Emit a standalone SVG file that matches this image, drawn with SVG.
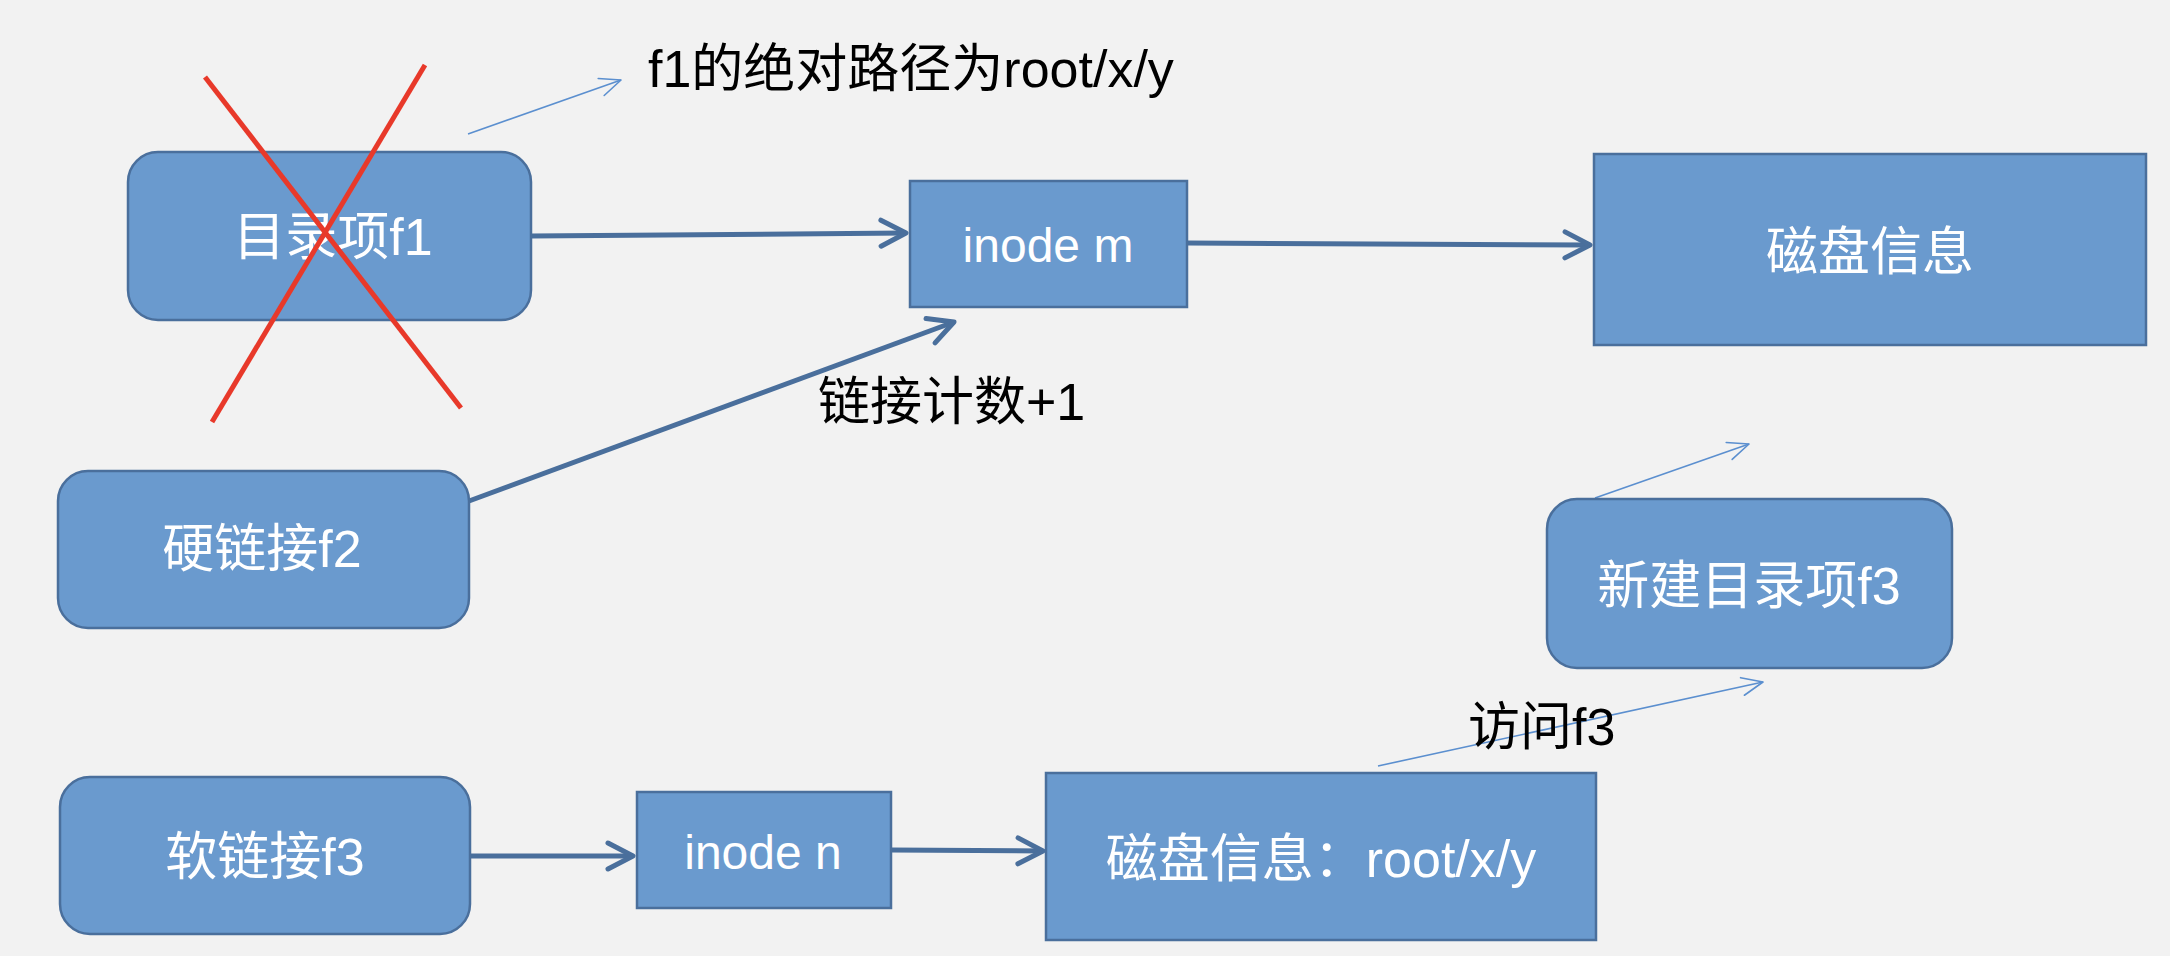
<svg xmlns="http://www.w3.org/2000/svg" width="2170" height="956" viewBox="0 0 2170 956">
<defs>
<style>
.box{fill:#6A9ACE;stroke:#4A6F9C;stroke-width:2.5}
.nt{font-family:"Liberation Sans","Noto Sans CJK SC",sans-serif;font-size:52px;fill:#FFFFFF;text-anchor:middle}
.nt2{font-size:48px}
.lb{font-family:"Liberation Sans","Noto Sans CJK SC",sans-serif;font-size:52px;fill:#000000}
.thick{stroke:#4A6F9C;stroke-width:5;fill:none}
.thin{stroke:#5B8FCF;stroke-width:1.6;fill:none}
.cross{stroke:#E8392A;stroke-width:5;fill:none}
</style>
<marker id="ah" markerUnits="userSpaceOnUse" viewBox="-34 -20 40 40" markerWidth="40" markerHeight="40" refX="0" refY="0" orient="auto">
<path d="M -25 -13 L 0 0 L -25 13" fill="none" stroke="#4A6F9C" stroke-width="5" stroke-linecap="round" stroke-linejoin="round"/>
</marker>
<marker id="ahThin" markerUnits="userSpaceOnUse" viewBox="-26 -14 30 28" markerWidth="30" markerHeight="28" refX="0" refY="0" orient="auto">
<path d="M -21 -9 L 0 0 L -21 9" fill="none" stroke="#5B8FCF" stroke-width="1.6" stroke-linecap="round" stroke-linejoin="round"/>
</marker>
</defs>
<rect x="0" y="0" width="2170" height="956" fill="#F2F2F2"/>

<g id="connectors">
<line class="thick" x1="531" y1="236" x2="906" y2="233" marker-end="url(#ah)"/>
<line class="thick" x1="1187" y1="243" x2="1590" y2="245" marker-end="url(#ah)"/>
<line class="thick" x1="469" y1="501" x2="954" y2="322" marker-end="url(#ah)"/>
<line class="thick" x1="470" y1="856" x2="633" y2="856" marker-end="url(#ah)"/>
<line class="thick" x1="891" y1="850" x2="1043" y2="851" marker-end="url(#ah)"/>
<line class="thin" x1="468" y1="134" x2="621" y2="80" marker-end="url(#ahThin)"/>
<line class="thin" x1="1595" y1="498" x2="1749" y2="444" marker-end="url(#ahThin)"/>
<line class="thin" x1="1378" y1="766" x2="1763" y2="682" marker-end="url(#ahThin)"/>
</g>

<g id="node-f1">
<rect class="box" x="128" y="152" width="403" height="168" rx="30" ry="30"/>
<text class="nt" x="333" y="255">目录项f1</text>
</g>
<g id="node-inode-m">
<rect class="box" x="910" y="181" width="277" height="126"/>
<text class="nt nt2" x="1048" y="262">inode m</text>
</g>
<g id="node-disk1">
<rect class="box" x="1594" y="154" width="552" height="191"/>
<text class="nt" x="1870" y="270">磁盘信息</text>
</g>
<g id="node-f2">
<rect class="box" x="58" y="471" width="411" height="157" rx="30" ry="30"/>
<text class="nt" x="262" y="567">硬链接f2</text>
</g>
<g id="node-new-f3">
<rect class="box" x="1547" y="499" width="405" height="169" rx="30" ry="30"/>
<text class="nt" x="1749" y="604">新建目录项f3</text>
</g>
<g id="node-soft-f3">
<rect class="box" x="60" y="777" width="410" height="157" rx="30" ry="30"/>
<text class="nt" x="265" y="875">软链接f3</text>
</g>
<g id="node-inode-n">
<rect class="box" x="637" y="792" width="254" height="116"/>
<text class="nt nt2" x="763" y="869">inode n</text>
</g>
<g id="node-disk2">
<rect class="box" x="1046" y="773" width="550" height="167"/>
<text class="nt" x="1321" y="877">磁盘信息：root/x/y</text>
</g>

<g id="labels">
<text class="lb" x="648" y="87">f1的绝对路径为root/x/y</text>
<text class="lb" x="818" y="420">链接计数+1</text>
<text class="lb" x="1468" y="745">访问f3</text>
</g>

<g id="cross">
<line class="cross" x1="205" y1="77" x2="461" y2="408"/>
<line class="cross" x1="425" y1="65" x2="212" y2="422"/>
</g>
</svg>
